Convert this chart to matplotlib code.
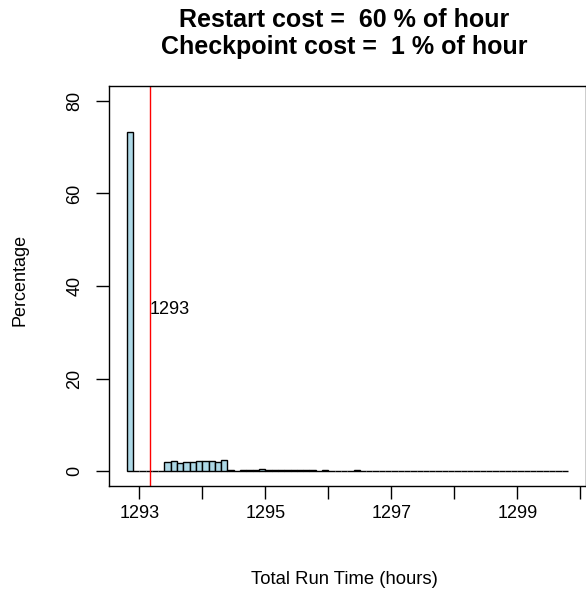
import matplotlib

matplotlib.use("Agg")
import numpy as np
from matplotlib import pyplot as plt

# histogram bins of total run time (hours), 0.1 h wide
bin_start = 1292.8
bin_width = 0.1
percent = [
    73.2, 0, 0, 0, 0, 0,
    2.0, 2.2, 1.7, 1.9, 2.0, 2.15, 2.2, 2.1, 2.0, 2.4,
    0.15, 0.1, 0.25, 0.3, 0.35, 0.4, 0.35, 0.35, 0.3, 0.25, 0.2, 0.15, 0.2, 0.15, 0.1, 0.15,
    0.1, 0.12, 0.08, 0.1, 0.15, 0.1, 0.08, 0.1, 0.12, 0.08,
    0.08, 0.1, 0.06, 0.05, 0.08, 0.1, 0.06, 0.05, 0.04, 0.06,
    0.04, 0.05, 0.03, 0.06, 0.04, 0.03, 0.05, 0.04, 0.03, 0.04,
    0.03, 0.04, 0.02, 0.03, 0.02, 0.03, 0.02, 0.03,
]
mean_run_time = 1293.17
mean_label = "1293"
x_ticks = [1293, 1294, 1295, 1296, 1297, 1298, 1299, 1300]
x_tick_labels = ["1293", "", "1295", "", "1297", "", "1299", ""]
y_ticks = [0, 20, 40, 60, 80]
title_lines = ["Restart cost =  60 % of hour", "Checkpoint cost =  1 % of hour"]

plt.rcParams["font.family"] = ["Liberation Sans", "DejaVu Sans"]
W, H = 586, 593
fig = plt.figure(figsize=(W / 100, H / 100), dpi=100)
ax = fig.add_axes([109 / W, 1 - 486 / H, (585.5 - 109) / W, 400 / H])

edges = bin_start + bin_width * np.arange(len(percent))
ax.bar(edges, percent, width=bin_width, align="edge",
       facecolor="#ADD8E6", edgecolor="black", linewidth=1.0)
ax.axvline(mean_run_time, color="red", linewidth=1.0)
ax.text(mean_run_time, 35, mean_label, ha="left", va="center", fontsize=13)

ax.set_xlim(1292.52, 1300.08)
ax.set_ylim(-3.2, 83.2)
ax.set_xticks(x_ticks)
ax.set_xticklabels(x_tick_labels)
ax.set_yticks(y_ticks)
ax.set_yticklabels([str(v) for v in y_ticks], rotation=90, va="center")
ax.tick_params(axis="both", direction="out", length=9.5, width=1.0, labelsize=13)
ax.tick_params(axis="x", pad=4)
ax.tick_params(axis="y", pad=9)
for spine in ax.spines.values():
    spine.set_linewidth(1.0)

cx = 344 / W
fig.text(cx, 1 - 20 / H, title_lines[0], ha="center", va="center",
         fontsize=18, fontweight="bold")
fig.text(cx, 1 - 47 / H, title_lines[1], ha="center", va="center",
         fontsize=18, fontweight="bold")
fig.text(cx, 1 - 579 / H, "Total Run Time (hours)", ha="center", va="center", fontsize=13.3)
fig.text(20 / W, 1 - 280 / H, "Percentage", ha="center", va="center",
         rotation=90, fontsize=13)

fig.savefig("out.png", dpi=100)
